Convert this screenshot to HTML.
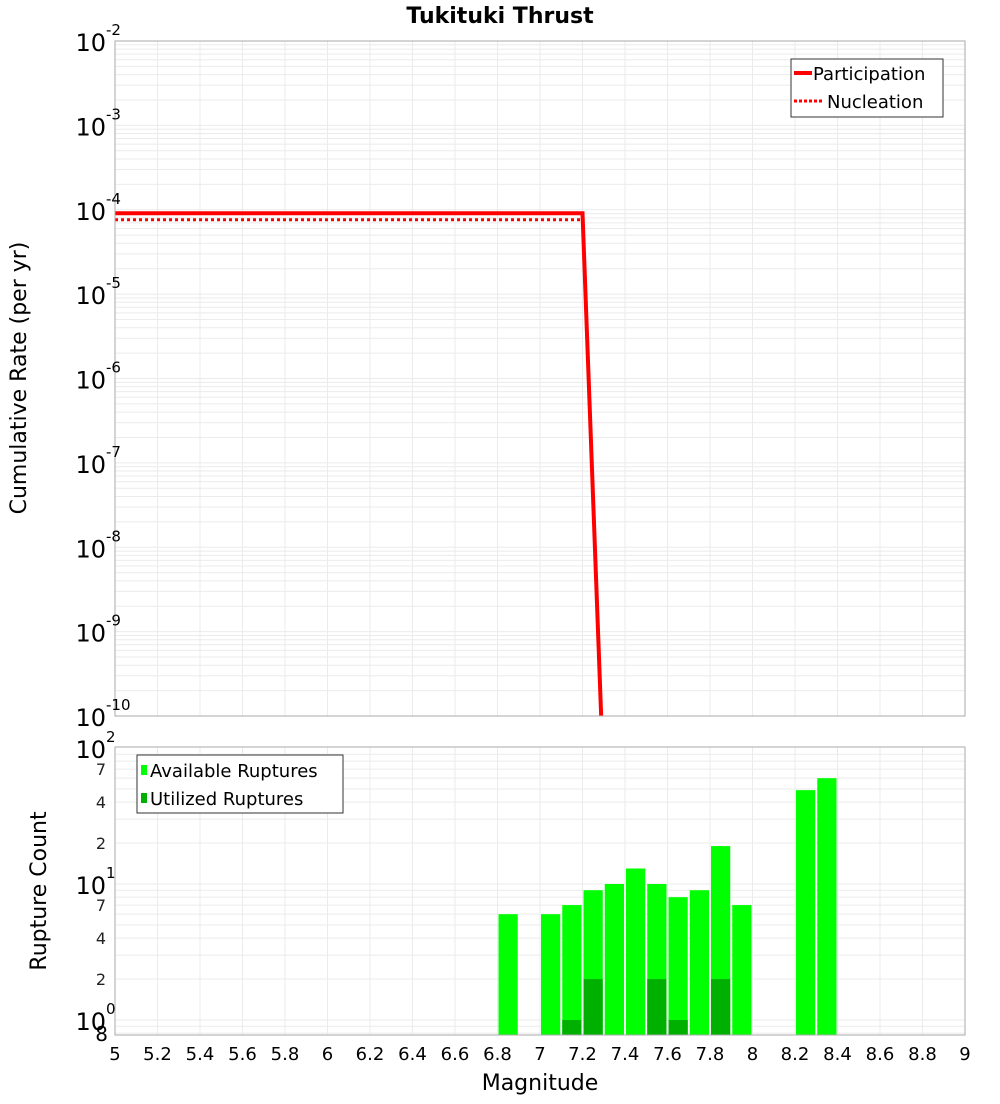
<!DOCTYPE html>
<html><head><meta charset="utf-8"><style>
body{margin:0;background:#fff;font-family:"DejaVu Sans","Liberation Sans",sans-serif}
svg text{font-family:"DejaVu Sans","Liberation Sans",sans-serif}
</style></head><body>
<svg id="chart" width="1000" height="1100" xmlns="http://www.w3.org/2000/svg">
<text x="500" y="23" text-anchor="middle" font-size="22" font-weight="bold">Tukituki Thrust</text>
<g id="topPanel"></g><g id="botPanel"></g>
<text transform="translate(26,378) rotate(-90)" text-anchor="middle" font-size="22">Cumulative Rate (per yr)</text>
<text transform="translate(46,891) rotate(-90)" text-anchor="middle" font-size="22">Rupture Count</text>
<text x="540" y="1090" text-anchor="middle" font-size="22">Magnitude</text>
</svg>
<script>
const partMags=[5.0,7.2,7.3];
const partVals=[9.1e-5,9.1e-5,1.5e-11];
const nuclMags=[5.0,7.2,7.3];
const nuclVals=[7.6e-5,7.6e-5,1.5e-11];
const binCenters=[6.85,7.05,7.15,7.25,7.35,7.45,7.55,7.65,7.75,7.85,7.95,8.25,8.35];
const availCounts=[6,6,7,9,10,13,10,8,9,19,7,49,60];
const usedCounts=[0,0,1,2,0,0,2,1,0,2,0,0,0];
const xTicks=[5,5.2,5.4,5.6,5.8,6,6.2,6.4,6.6,6.8,7,7.2,7.4,7.6,7.8,8,8.2,8.4,8.6,8.8,9];
const topDecades=[-10,-9,-8,-7,-6,-5,-4,-3,-2];
const botMinorLabels=[2,4,7,20,40,70];

const NS='http://www.w3.org/2000/svg';
const L=115,R=965;
const X=m=>L+(m-5)/4*(R-L);
const T0=41,T1=716,Y1=v=>T0+(-2-Math.log10(v))*(T1-T0)/8;
const B0=747,B1=1035,Y2=v=>1020-Math.log10(v)*136;
function el(p,t,a){const e=document.createElementNS(NS,t);for(const k in a)e.setAttribute(k,a[k]);p.appendChild(e);return e;}
const gTop=document.getElementById('topPanel'),gBot=document.getElementById('botPanel');
const svgRoot=document.getElementById('chart');
const defs=el(svgRoot,'defs',{});
const c1=el(defs,'clipPath',{id:'c1'});el(c1,'rect',{x:L,y:T0,width:R-L,height:T1-T0});
const c2=el(defs,'clipPath',{id:'c2'});el(c2,'rect',{x:L,y:B0,width:R-L,height:B1-B0});

const tg=el(gTop,'g',{});


for(const d of topDecades){for(let k=1;k<10;k++){const v=k*Math.pow(10,d);const y=Y1(v);if(y<T0-0.5||y>T1+0.5)continue;el(tg,'line',{x1:L,x2:R,y1:y,y2:y,stroke:'#ebebeb','stroke-width':1});}}
for(const t of xTicks){el(tg,'line',{x1:X(t),x2:X(t),y1:T0,y2:T1,stroke:'#ebebeb','stroke-width':1});}
const bg=el(gBot,'g',{});


for(const d of [-1,0,1]){for(let k=1;k<10;k++){const v=k*Math.pow(10,d);const y=Y2(v);if(y<B0-0.5||y>B1+0.5)continue;el(bg,'line',{x1:L,x2:R,y1:y,y2:y,stroke:'#ebebeb','stroke-width':1});}}
for(const t of xTicks){el(bg,'line',{x1:X(t),x2:X(t),y1:B0,y2:B1,stroke:'#ebebeb','stroke-width':1});}

const lg=el(gTop,'g',{'clip-path':'url(#c1)'});
const pl=el(lg,'polyline',{points:partMags.map((m,i)=>X(m)+','+Y1(partVals[i])).join(' '),fill:'none',stroke:'#ff0000','stroke-width':4});


const nl=el(lg,'polyline',{points:nuclMags.map((m,i)=>X(m)+','+Y1(nuclVals[i])).join(' '),fill:'none',stroke:'#ff0000','stroke-width':3,'stroke-dasharray':'3,3'});


el(gTop,'rect',{x:L,y:T0,width:R-L,height:T1-T0,fill:'none',stroke:'#aaa','stroke-width':1});

for(const d of topDecades){const y=Y1(Math.pow(10,d));const t=el(gTop,'text',{x:106,y:y+10,'text-anchor':'end','font-size':24});t.textContent='10';


const s=el(gTop,'text',{x:106,y:y-6,'font-size':15});s.textContent=String(d);}

const brg=el(gBot,'g',{'clip-path':'url(#c2)'});
const bw=0.1*(R-L)/4;
binCenters.forEach((c,i)=>{const x=X(c)-bw/2+1;
 const r=el(brg,'rect',{x:x,y:Y2(availCounts[i]),width:bw-2,height:B1-Y2(availCounts[i]),fill:'#00ff00'});
 
 
 if(usedCounts[i]>0){const u=el(brg,'rect',{x:x,y:Y2(usedCounts[i]),width:bw-2,height:B1-Y2(usedCounts[i]),fill:'#00b000'});
 
 }
});
el(gBot,'rect',{x:L,y:B0,width:R-L,height:B1-B0,fill:'none',stroke:'#aaa','stroke-width':1});
for(const d of [0,1,2]){const y=Y2(Math.pow(10,d));const t=el(gBot,'text',{x:106,y:y+10,'text-anchor':'end','font-size':24});t.textContent='10';


const s=el(gBot,'text',{x:106,y:y-6,'font-size':15});s.textContent=String(d);}
for(const v of botMinorLabels){const t=el(gBot,'text',{x:106,y:Y2(v)+6,'text-anchor':'end','font-size':16,fill:'#222'});t.textContent=String(v).charAt(0);

}
{const t=el(gBot,'text',{x:108,y:1041,'text-anchor':'end','font-size':20});t.textContent='8';}
for(const v of xTicks){const t=el(gBot,'text',{x:X(v),y:1060,'text-anchor':'middle','font-size':18});t.textContent=String(v);

}

const lt=el(gTop,'g',{});


el(lt,'rect',{x:791,y:59,width:152,height:58,fill:'#fff',stroke:'#333','stroke-width':1});
el(lt,'line',{x1:794,x2:812,y1:73,y2:73,stroke:'#f00','stroke-width':4});
el(lt,'text',{x:813,y:80,'font-size':18}).textContent='Participation';
el(lt,'line',{x1:794,x2:822,y1:101,y2:101,stroke:'#f00','stroke-width':3,'stroke-dasharray':'3,2'});
el(lt,'text',{x:827,y:108,'font-size':18}).textContent='Nucleation';
const lb=el(gBot,'g',{});


el(lb,'rect',{x:137,y:755,width:206,height:58,fill:'#fff',stroke:'#333','stroke-width':1});
el(lb,'rect',{x:141,y:765,width:6,height:10,fill:'#00ff00'});
el(lb,'text',{x:150,y:777,'font-size':18}).textContent='Available Ruptures';
el(lb,'rect',{x:141,y:793,width:6,height:10,fill:'#00b000'});
el(lb,'text',{x:150,y:805,'font-size':18}).textContent='Utilized Ruptures';
</script>
</body></html>
